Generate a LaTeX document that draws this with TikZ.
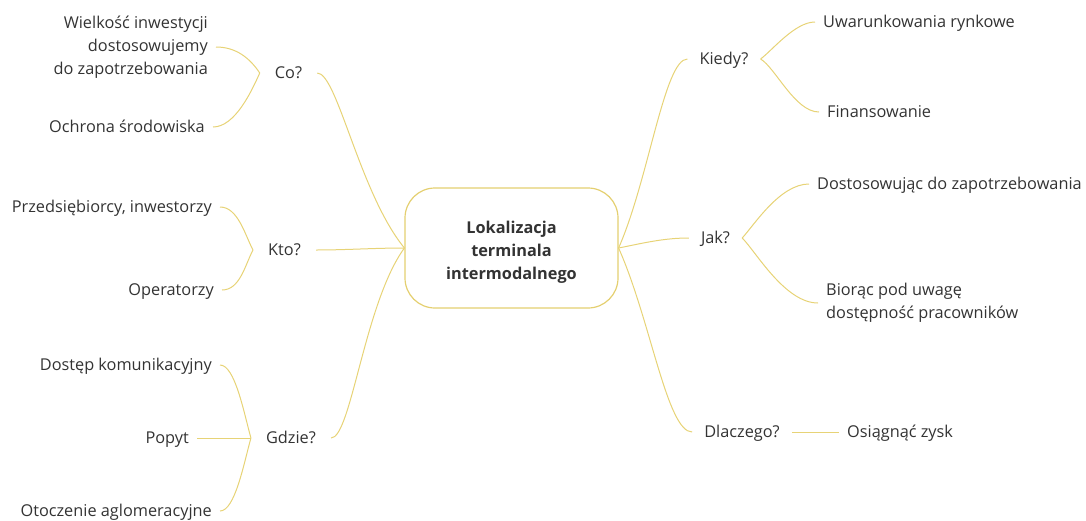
\documentclass[tikz,border=0pt]{standalone}
\usepackage{fontspec}
\setmainfont{Open Sans}
\definecolor{ln}{RGB}{231,211,118}
\definecolor{bx}{RGB}{228,207,112}
\definecolor{tx}{RGB}{51,51,51}
\begin{document}
\begin{tikzpicture}[x=1pt,y=-1pt,
  every node/.style={font=\fontsize{16.3}{23}\selectfont, text=tx},
  one/.style={text height=15pt, text depth=4pt},
  lq/.style={one, inner xsep=15pt, inner ysep=2pt},
  rq/.style={one, inner xsep=12pt, inner ysep=2pt},
  ch/.style={inner xsep=8pt, inner ysep=2pt},
  link/.style={draw=ln, line width=1pt},
  hub/.style={draw=bx, line width=1.2pt, rounded corners=30pt,
    minimum width=213pt, minimum height=120pt, align=center,
    font=\fontsize{16.3}{23}\selectfont\bfseries}]
\useasboundingbox (0,0) rectangle (1086,520);

% central node
\node[hub] (c) at (511.5,248) {\rule{0pt}{20pt}Lokalizacja\\terminala\\intermodalnego};

% question nodes
\node[lq] (co) at (288.5,73) {Co?};
\node[lq] (kto) at (284.5,250) {Kto?};
\node[lq] (gdzie) at (291,438) {Gdzie?};
\node[rq] (kiedy) at (724,59) {Kiedy?};
\node[rq] (jak) at (715.5,238) {Jak?};
\node[rq] (dla) at (742,432) {Dlaczego?};

% left children
\node[ch, align=right, anchor=east] (w) at (216,47) {Wielkość inwestycji\\dostosowujemy\\do zapotrzebowania};
\node[ch, one, anchor=east] (och) at (213,127) {Ochrona środowiska};
\node[ch, one, anchor=east] (prz) at (220,207) {Przedsiębiorcy, inwestorzy};
\node[ch, one, anchor=east] (ope) at (222,290) {Operatorzy};
\node[ch, one, anchor=east] (dos) at (220,365) {Dostęp komunikacyjny};
\node[ch, one, anchor=east] (pop) at (197,438) {Popyt};
\node[ch, one, anchor=east] (oto) at (220,511) {Otoczenie aglomeracyjne};

% right children
\node[ch, one, anchor=west] (uw) at (815,22) {Uwarunkowania rynkowe};
\node[ch, one, anchor=west] (fin) at (819,112) {Finansowanie};
\node[ch, one, anchor=west] (dst) at (809,184) {Dostosowując do zapotrzebowania};
\node[ch, align=left, anchor=west] (bio) at (818,303) {Biorąc pod uwagę\\dostępność pracowników};
\node[ch, one, anchor=west] (osi) at (839,432) {Osiągnąć zysk};

% hub links
\draw[link] (co.east) .. controls +(20,0) and +(-45,-55) .. (c.west);
\draw[link] (kto.east) .. controls +(30,0) and +(-30,0) .. (c.west);
\draw[link] (gdzie.east) .. controls +(20,0) and +(-40,55) .. (c.west);
\draw[link] (c.east) .. controls +(30,-68) and +(-23,0) .. (kiedy.west);
\draw[link] (c.east) .. controls +(25,-5) and +(-25,0) .. (jak.west);
\draw[link] (c.east) .. controls +(32,72) and +(-25,0) .. (dla.west);

% left child links
\draw[link] (co.west) .. controls +(-10,-15) and +(20,0) .. (w.east);
\draw[link] (co.west) .. controls +(-8,18) and +(22,0) .. (och.east);
\draw[link] (kto.west) .. controls +(-8,-15) and +(18,0) .. (prz.east);
\draw[link] (kto.west) .. controls +(-8,15) and +(18,0) .. (ope.east);
\draw[link] (gdzie.west) .. controls +(-7,-25) and +(15,0) .. (dos.east);
\draw[link] (gdzie.west) -- (pop.east);
\draw[link] (gdzie.west) .. controls +(-7,25) and +(15,0) .. (oto.east);

% right child links
\draw[link] (kiedy.east) .. controls +(12,-9) and +(-20,0) .. (uw.west);
\draw[link] (kiedy.east) .. controls +(15,9) and +(-24,0) .. (fin.west);
\draw[link] (jak.east) .. controls +(12,-13) and +(-29,0) .. (dst.west);
\draw[link] (jak.east) .. controls +(14,14) and +(-33,0) .. (bio.west);
\draw[link] (dla.east) -- (osi.west);
\end{tikzpicture}
\end{document}
